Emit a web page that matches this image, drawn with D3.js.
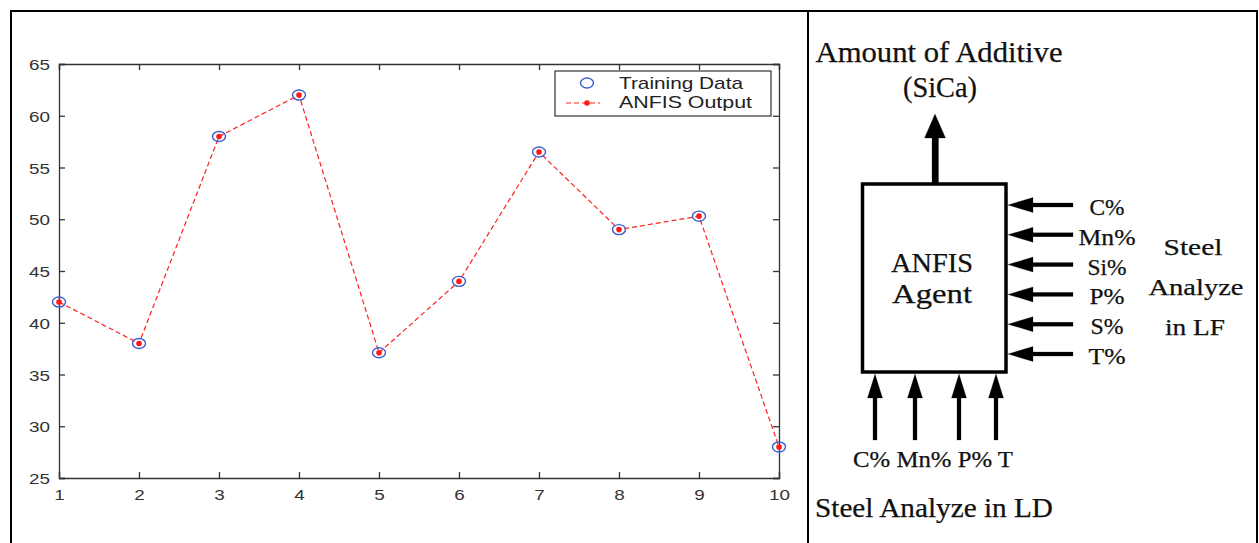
<!DOCTYPE html>
<html><head><meta charset="utf-8">
<script src="https://cdn.jsdelivr.net/npm/d3@7"></script>
<style>body{margin:0;background:#fff}svg{display:block}</style>
</head><body>
<svg id="c" width="1259" height="543"></svg>
<script>
const samples = [1,2,3,4,5,6,7,8,9,10];
const trainingData = [42,38,58,62,37.1,44,56.5,49,50.3,28];
const anfisOutput = [42,38,58,62,37.1,44,56.5,49,50.3,28];
const yTicks = [25,30,35,40,45,50,55,60,65];
const legendLabels = ["Training Data","ANFIS Output"];
const rightInputs = ["C%","Mn%","Si%","P%","S%","T%"];
const bottomInputs = ["C%","Mn%","P%","T"];
const bottomLabelText = "C% Mn% P% T";

const svg = d3.select("#c");
// outer frame
const fr = svg.append("g").attr("stroke","#000").attr("stroke-width",2).attr("fill","none");
fr.append("path").attr("d","M11,545 V11 H1257 V545");
fr.append("line").attr("x1",808).attr("x2",808).attr("y1",11).attr("y2",545);

// ---- chart ----
const L=59,R=779,T=64,B=478;
const x = d3.scaleLinear().domain([1,10]).range([L,R]);
const y = d3.scaleLinear().domain([25,65]).range([B,T]);
const g = svg.append("g");
const axCol="#333";
const fontA="Liberation Sans, Arial, sans-serif";
const ax1=g.append("g").attr("transform",`translate(0,${B})`).call(d3.axisBottom(x).tickValues(samples).tickSize(-6).tickPadding(9).tickFormat(d3.format("d")));
const ay1=g.append("g").attr("transform",`translate(${L},0)`).call(d3.axisLeft(y).tickValues(yTicks).tickSize(-6).tickPadding(9));
const ax2=g.append("g").attr("transform",`translate(0,${T})`).call(d3.axisTop(x).tickValues(samples).tickSize(-6).tickFormat(""));
const ay2=g.append("g").attr("transform",`translate(${R},0)`).call(d3.axisRight(y).tickValues(yTicks).tickSize(-6).tickFormat(""));
[ax1,ay1,ax2,ay2].forEach(a=>{
  a.select(".domain").attr("stroke",axCol).attr("stroke-width",1.3);
  a.selectAll(".tick line").attr("stroke",axCol).attr("stroke-width",1.3);
  a.selectAll("text").attr("fill","#333").attr("font-family",fontA).attr("font-size",15.5)
    .each(function(){const s=this.textContent; if(s) d3.select(this).attr("textLength",s.length*10.5).attr("lengthAdjust","spacingAndGlyphs");});
});
ax1.selectAll(".tick text").attr("dy","0.85em");
ay1.selectAll(".tick text").attr("dy","0.36em");

const line = d3.line().x((d,i)=>x(samples[i])).y(d=>y(d));
g.append("path").datum(anfisOutput).attr("d",line).attr("fill","none")
  .attr("stroke","#ff2020").attr("stroke-width",1.2).attr("stroke-dasharray","5,3");
g.selectAll(".tr").data(trainingData).join("ellipse").attr("class","tr")
  .attr("cx",(d,i)=>x(samples[i])).attr("cy",d=>y(d)).attr("rx",6.5).attr("ry",5)
  .attr("fill","none").attr("stroke","#3a5fcd").attr("stroke-width",1.4);
g.selectAll(".ao").data(anfisOutput).join("circle").attr("class","ao")
  .attr("cx",(d,i)=>x(samples[i])).attr("cy",d=>y(d)).attr("r",2.8).attr("fill","#ff1a1a");

// legend
const lg = g.append("g");
lg.append("rect").attr("x",555).attr("y",71).attr("width",216).attr("height",45)
  .attr("fill","#fff").attr("stroke","#333").attr("stroke-width",1.2);
lg.append("ellipse").attr("cx",587).attr("cy",83).attr("rx",6.5).attr("ry",5)
  .attr("fill","none").attr("stroke","#3a5fcd").attr("stroke-width",1.4);
lg.append("line").attr("x1",566).attr("x2",600).attr("y1",103).attr("y2",103)
  .attr("stroke","#ff2020").attr("stroke-width",1.2).attr("stroke-dasharray","5,3");
lg.append("circle").attr("cx",587).attr("cy",103).attr("r",2.8).attr("fill","#ff1a1a");
const legW=[124,133];
lg.selectAll("text").data(legendLabels).join("text").attr("x",619).attr("y",(d,i)=>89+i*19)
  .attr("font-family",fontA).attr("font-size",17).attr("fill","#222")
  .attr("textLength",(d,i)=>legW[i]).attr("lengthAdjust","spacingAndGlyphs").text(d=>d);

// ---- diagram ----
const serif="Liberation Serif, 'Times New Roman', serif";
const dg = svg.append("g").attr("fill","#111").attr("font-family",serif)
  .attr("stroke","#111").attr("stroke-width",0.25);
function txt(s,xp,yp,size,anchor,w){
  const t=dg.append("text").attr("x",xp).attr("y",yp).attr("font-size",size)
    .attr("text-anchor",anchor||"middle").text(s);
  if(w) t.attr("textLength",w).attr("lengthAdjust","spacingAndGlyphs");
  return t;
}
txt("Amount of Additive",939,62,29,"middle",247);
txt("(SiCa)",940,97,29,"middle",74);
// up arrow
dg.append("rect").attr("x",932).attr("y",135).attr("width",6.5).attr("height",50).attr("fill","#000");
dg.append("path").attr("d","M935,114 L945.5,138 L924.5,138 Z").attr("fill","#000");
// box
dg.append("rect").attr("x",862.5).attr("y",184).attr("width",143.5).attr("height",188)
  .attr("fill","#fff").attr("stroke","#000").attr("stroke-width",3.5);
txt("ANFIS",932,272,27,"middle",82);
txt("Agent",932,303,27,"middle",80);

// right inputs
const ry = d3.scalePoint().domain(rightInputs).range([205,354]);
const rW = [35,57,39,35,33,37];
rightInputs.forEach((k,i)=>{
  const yy=ry(k);
  dg.append("rect").attr("x",1028).attr("y",yy-2).attr("width",45).attr("height",4).attr("fill","#000");
  dg.append("path").attr("d",`M1008,${yy} L1033,${yy-7.5} L1033,${yy+7.5} Z`).attr("fill","#000");
  txt(k,1107,yy+10,22.5,"middle",rW[i]);
});
txt("Steel",1193,255,23.5,"middle",59);
txt("Analyze",1196,295,23.5,"middle",95);
txt("in LF",1195,335,23.5,"middle",60);

// bottom inputs
const bx = d3.scaleOrdinal().domain(bottomInputs).range([875,915,959,996]);
bottomInputs.forEach(k=>{
  const xx=bx(k);
  dg.append("rect").attr("x",xx-2).attr("y",392).attr("width",4).attr("height",48).attr("fill","#000");
  dg.append("path").attr("d",`M${xx},374 L${xx+7.5},398 L${xx-7.5},398 Z`).attr("fill","#000");
});
txt(bottomLabelText,933,467,23,"middle",160);
txt("Steel Analyze in LD",934,517,27,"middle",238);
</script>
</body></html>
